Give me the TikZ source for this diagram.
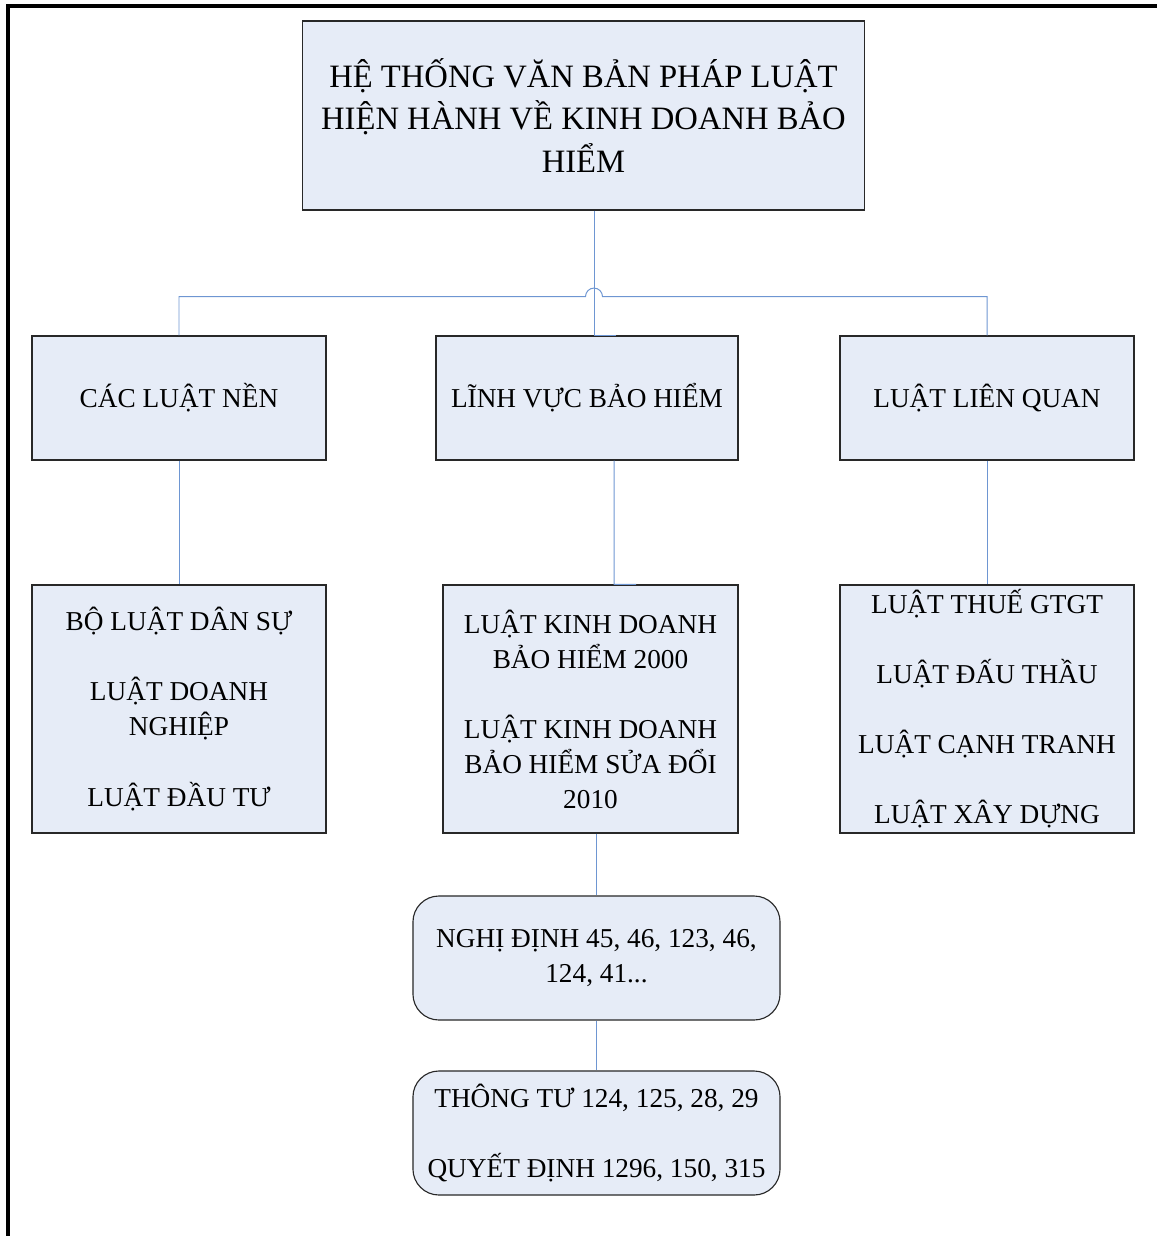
\documentclass[tikz,border=0pt]{standalone}
\usepackage{fontspec}
\setmainfont{Liberation Serif}
\usepackage{xcolor}
\usetikzlibrary{positioning,calc}
\definecolor{BoxFill}{RGB}{230,236,247}
\definecolor{LinkBlue}{RGB}{110,150,210}
\definecolor{EdgeDark}{RGB}{40,40,40}

\begin{document}
\begin{tikzpicture}[
  x=0.025cm, y=-0.025cm,
  block/.style={rectangle, draw=EdgeDark, fill=BoxFill, line width=0.8pt, inner sep=0pt, align=center, font=\fontsize{19.4}{24.9}\selectfont},
  titlebox/.style={block, minimum width=14.025cm, minimum height=4.725cm, font=\fontsize{23.2}{29.9}\selectfont},
  headbox/.style={block, minimum width=7.35cm, minimum height=3.1cm},
  listbox/.style={block, minimum width=7.35cm, minimum height=6.2cm},
  roundbox/.style={block, rounded corners=0.65cm, minimum width=9.175cm, minimum height=3.1cm},
  link/.style={draw=LinkBlue, line width=0.7pt}
]
  \useasboundingbox (0,0) rectangle (1157,1236);

  % Frame
  \draw[line width=0.075cm] (8,1236) -- (8,6) -- (1157,6);

  % Nodes
  \node[titlebox] (title) at (583.5,115.5) {HỆ THỐNG VĂN BẢN PHÁP LUẬT\\HIỆN HÀNH VỀ KINH DOANH BẢO\\HIỂM};
  \node[headbox] (base) at (179,398) {CÁC LUẬT NỀN};
  \node[headbox, minimum width=7.55cm] (field) at (587,398) {LĨNH VỰC BẢO HIỂM};
  \node[headbox] (related) at (987,398) {LUẬT LIÊN QUAN};
  \node[listbox] (baselist) at (179,709) {BỘ LUẬT DÂN SỰ\\[\baselineskip]LUẬT DOANH\\NGHIỆP\\[\baselineskip]LUẬT ĐẦU TƯ};
  \node[listbox, minimum width=7.375cm] (fieldlist) at (590.5,709) {LUẬT KINH DOANH\\BẢO HIỂM 2000\\[\baselineskip]LUẬT KINH DOANH\\BẢO HIỂM SỬA ĐỔI\\2010};
  \node[listbox] (relatedlist) at (987,709) {LUẬT THUẾ GTGT\\[\baselineskip]LUẬT ĐẤU THẦU\\[\baselineskip]LUẬT CẠNH TRANH\\[\baselineskip]LUẬT XÂY DỰNG};
  \node[roundbox] (decree) at (596.5,958) {NGHỊ ĐỊNH 45, 46, 123, 46,\\124, 41...};
  \node[roundbox] (circular) at (596.5,1133) {THÔNG TƯ 124, 125, 28, 29\\[\baselineskip]QUYẾT ĐỊNH 1296, 150, 315};

  % Lines
  \coordinate (hop) at ($(title.south)+(10.5,86)$);
  \draw[link] (base.north) |- ($(hop)+(-8.5,0)$) arc[start angle=180, end angle=0, radius=0.2125cm] -| (related.north);
  \draw[link] (hop |- title.south) -- (hop |- field.north) -- ++(22,0);
  \draw[link] ($(field.south)+(27,0)$) -- ($(fieldlist.north)+(23.5,0)$) -- ++(22,0);
  \draw[link] (base.south) -- (baselist.north);
  \draw[link] (related.south) -- (relatedlist.north);
  \draw[link] (decree.north |- fieldlist.south) -- (decree.north);
  \draw[link] (decree.south) -- (circular.north);
\end{tikzpicture}
\end{document}
